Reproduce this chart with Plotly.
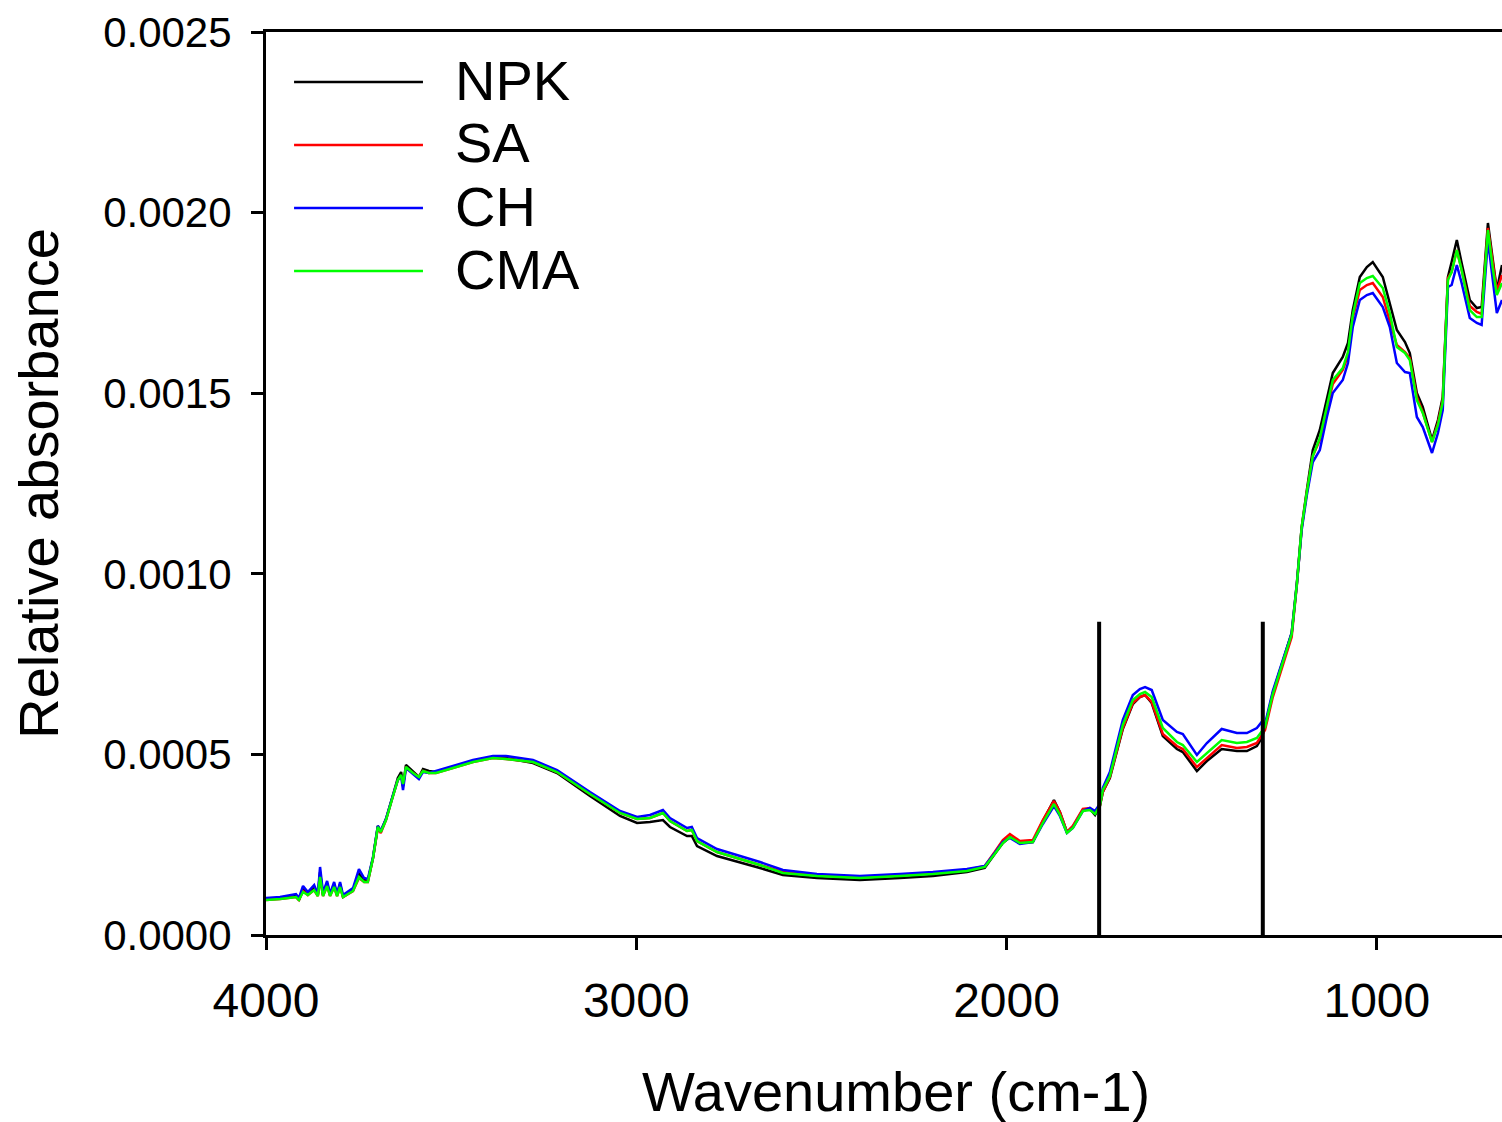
import plotly.graph_objects as go

# ---------------- data ----------------
wavenumber = [4000, 3962, 3919, 3911, 3900, 3887, 3870, 3860, 3854, 3846, 3835, 3827, 3816, 3808, 3800, 3792,
              3765, 3749, 3735, 3725, 3711, 3698, 3690, 3676, 3657, 3644, 3635, 3630, 3622, 3603, 3587, 3576,
              3560, 3541, 3495, 3441, 3387, 3352,
              3279, 3214, 3125, 3044, 2998, 2963, 2928, 2909, 2863, 2850, 2836, 2782, 2666,
              2604, 2512, 2396, 2288, 2199, 2107, 2059, 2032, 2010, 1991, 1964, 1929, 1902, 1872, 1856, 1837,
              1821, 1794, 1775, 1761, 1748,
              1740, 1721, 1686, 1659, 1640, 1626, 1608, 1578, 1540, 1524, 1486, 1459, 1419, 1378, 1351, 1324, 1311,
              1302, 1281, 1254, 1230, 1216, 1203, 1189, 1173, 1154, 1135, 1119, 1092, 1078, 1065, 1046, 1027, 1011,
              984, 965, 946, 924, 911, 892, 876, 851, 835, 822, 808, 798, 784, 771, 749, 730, 717, 700, 687, 676, 662]

npk = [99.7e-6, 102.4e-6, 108.0e-6, 96.9e-6, 127.4e-6, 113.5e-6, 130.1e-6, 110.7e-6, 174.4e-6, 110.7e-6, 144.0e-6, 110.7e-6, 141.2e-6, 110.7e-6, 141.2e-6, 105.2e-6,
       124.6e-6, 168.9e-6, 152.3e-6, 149.5e-6, 213.2e-6, 301.8e-6, 287.9e-6, 321.1e-6, 387.6e-6, 434.7e-6, 451.3e-6, 412.5e-6, 470.6e-6, 454.0e-6, 437.4e-6, 459.6e-6,
       454.0e-6, 451.3e-6, 465.1e-6, 481.7e-6, 492.8e-6, 490.0e-6,
       476.2e-6, 448.5e-6, 384.8e-6, 329.5e-6, 310.1e-6, 312.8e-6, 318.4e-6, 299.0e-6, 274.1e-6, 274.1e-6, 246.4e-6, 218.7e-6, 185.5e-6,
       166.1e-6, 157.8e-6, 152.3e-6, 157.8e-6, 163.3e-6, 174.4e-6, 185.5e-6, 224.2e-6, 254.7e-6, 271.3e-6, 254.7e-6, 257.5e-6, 315.6e-6, 373.7e-6, 340.5e-6, 285.2e-6,
       299.0e-6, 346.1e-6, 348.8e-6, 332.2e-6, 357.1e-6,
       395.9e-6, 434.7e-6, 570.3e-6, 639.5e-6, 658.9e-6, 664.4e-6, 642.3e-6, 550.9e-6, 514.9e-6, 506.6e-6, 454.0e-6, 481.7e-6, 514.9e-6, 509.4e-6, 509.4e-6, 523.2e-6, 545.4e-6,
       575.8e-6, 670.0e-6, 761.3e-6, 836.1e-6, 974.5e-6, 1129.5e-6, 1232.0e-6, 1342.7e-6, 1398.1e-6, 1481.1e-6, 1555.9e-6, 1600.2e-6, 1638.9e-6, 1730.3e-6, 1821.7e-6, 1849.4e-6, 1863.2e-6,
       1821.7e-6, 1749.7e-6, 1674.9e-6, 1641.7e-6, 1611.3e-6, 1500.5e-6, 1461.8e-6, 1370.4e-6, 1425.8e-6, 1489.5e-6, 1821.7e-6, 1863.2e-6, 1924.1e-6, 1860.4e-6, 1758.0e-6, 1735.8e-6, 1738.6e-6, 1971.2e-6, 1868.7e-6, 1785.7e-6, 1854.9e-6]

sa = [96.9e-6, 99.7e-6, 105.2e-6, 96.9e-6, 121.8e-6, 110.7e-6, 124.6e-6, 108.0e-6, 157.8e-6, 108.0e-6, 135.7e-6, 108.0e-6, 132.9e-6, 108.0e-6, 132.9e-6, 105.2e-6,
      121.8e-6, 157.8e-6, 146.7e-6, 146.7e-6, 213.2e-6, 296.2e-6, 282.4e-6, 318.4e-6, 384.8e-6, 429.1e-6, 440.2e-6, 415.3e-6, 462.3e-6, 448.5e-6, 437.4e-6, 454.0e-6,
      448.5e-6, 448.5e-6, 462.3e-6, 479.0e-6, 490.0e-6, 487.3e-6,
      479.0e-6, 451.3e-6, 390.4e-6, 337.8e-6, 321.1e-6, 323.9e-6, 337.8e-6, 315.6e-6, 287.9e-6, 290.7e-6, 260.2e-6, 229.8e-6, 193.8e-6,
      174.4e-6, 166.1e-6, 160.6e-6, 166.1e-6, 171.6e-6, 180.0e-6, 191.0e-6, 229.8e-6, 263.0e-6, 279.6e-6, 260.2e-6, 263.0e-6, 318.4e-6, 371.0e-6, 340.5e-6, 285.2e-6,
      301.8e-6, 348.8e-6, 351.6e-6, 337.8e-6, 357.1e-6,
      395.9e-6, 437.4e-6, 573.1e-6, 642.3e-6, 658.9e-6, 664.4e-6, 645.1e-6, 556.5e-6, 523.2e-6, 514.9e-6, 465.1e-6, 490.0e-6, 526.0e-6, 517.7e-6, 520.5e-6, 531.6e-6, 550.9e-6,
      567.5e-6, 658.9e-6, 750.3e-6, 825.0e-6, 969.0e-6, 1126.8e-6, 1226.4e-6, 1326.1e-6, 1370.4e-6, 1453.5e-6, 1525.4e-6, 1564.2e-6, 1602.9e-6, 1708.2e-6, 1785.7e-6, 1799.5e-6, 1805.1e-6,
      1766.3e-6, 1702.6e-6, 1633.4e-6, 1614.0e-6, 1597.4e-6, 1489.5e-6, 1447.9e-6, 1364.9e-6, 1417.5e-6, 1481.1e-6, 1818.9e-6, 1835.5e-6, 1896.4e-6, 1841.1e-6, 1741.4e-6, 1724.8e-6, 1719.2e-6, 1957.3e-6, 1854.9e-6, 1782.9e-6, 1827.2e-6]

ch = [102.4e-6, 105.2e-6, 113.5e-6, 102.4e-6, 135.7e-6, 119.0e-6, 138.4e-6, 113.5e-6, 188.3e-6, 116.3e-6, 149.5e-6, 113.5e-6, 146.7e-6, 113.5e-6, 146.7e-6, 110.7e-6,
      130.1e-6, 182.7e-6, 157.8e-6, 155.0e-6, 215.9e-6, 301.8e-6, 287.9e-6, 321.1e-6, 387.6e-6, 429.1e-6, 440.2e-6, 401.4e-6, 462.3e-6, 445.7e-6, 431.9e-6, 451.3e-6,
      448.5e-6, 454.0e-6, 467.9e-6, 484.5e-6, 495.6e-6, 495.6e-6,
      484.5e-6, 456.8e-6, 395.9e-6, 343.3e-6, 326.7e-6, 332.2e-6, 346.1e-6, 323.9e-6, 296.2e-6, 299.0e-6, 268.5e-6, 238.1e-6, 202.1e-6,
      180.0e-6, 168.9e-6, 163.3e-6, 168.9e-6, 174.4e-6, 182.7e-6, 191.0e-6, 227.0e-6, 257.5e-6, 268.5e-6, 251.9e-6, 257.5e-6, 307.3e-6, 357.1e-6, 329.5e-6, 282.4e-6,
      296.2e-6, 343.3e-6, 351.6e-6, 343.3e-6, 362.7e-6,
      407.0e-6, 451.3e-6, 595.2e-6, 664.4e-6, 681.1e-6, 686.6e-6, 678.3e-6, 595.2e-6, 562.0e-6, 556.5e-6, 498.3e-6, 531.6e-6, 570.3e-6, 559.2e-6, 559.2e-6, 573.1e-6, 589.7e-6,
      584.2e-6, 675.5e-6, 764.1e-6, 836.1e-6, 971.7e-6, 1121.2e-6, 1218.1e-6, 1309.5e-6, 1342.7e-6, 1434.1e-6, 1500.5e-6, 1536.5e-6, 1583.6e-6, 1683.2e-6, 1758.0e-6, 1771.8e-6, 1777.4e-6,
      1738.6e-6, 1683.2e-6, 1583.6e-6, 1558.7e-6, 1555.9e-6, 1434.1e-6, 1406.4e-6, 1334.4e-6, 1389.8e-6, 1453.5e-6, 1794.0e-6, 1799.5e-6, 1854.9e-6, 1805.1e-6, 1708.2e-6, 1694.3e-6, 1688.8e-6, 1924.1e-6, 1813.4e-6, 1722.0e-6, 1758.0e-6]

cma = [96.9e-6, 99.7e-6, 105.2e-6, 96.9e-6, 119.0e-6, 110.7e-6, 124.6e-6, 108.0e-6, 160.6e-6, 108.0e-6, 135.7e-6, 108.0e-6, 132.9e-6, 108.0e-6, 132.9e-6, 105.2e-6,
       121.8e-6, 160.6e-6, 146.7e-6, 146.7e-6, 213.2e-6, 299.0e-6, 285.2e-6, 318.4e-6, 384.8e-6, 429.1e-6, 443.0e-6, 418.1e-6, 465.1e-6, 448.5e-6, 437.4e-6, 454.0e-6,
       448.5e-6, 448.5e-6, 462.3e-6, 479.0e-6, 490.0e-6, 487.3e-6,
       479.0e-6, 451.3e-6, 390.4e-6, 337.8e-6, 321.1e-6, 323.9e-6, 337.8e-6, 315.6e-6, 287.9e-6, 290.7e-6, 260.2e-6, 229.8e-6, 193.8e-6,
       171.6e-6, 163.3e-6, 157.8e-6, 163.3e-6, 168.9e-6, 177.2e-6, 188.3e-6, 224.2e-6, 254.7e-6, 271.3e-6, 254.7e-6, 257.5e-6, 310.1e-6, 362.7e-6, 332.2e-6, 282.4e-6,
       296.2e-6, 343.3e-6, 346.1e-6, 335.0e-6, 357.1e-6,
       401.4e-6, 440.2e-6, 581.4e-6, 650.6e-6, 667.2e-6, 672.7e-6, 658.9e-6, 573.1e-6, 534.3e-6, 526.0e-6, 479.0e-6, 503.9e-6, 539.9e-6, 531.6e-6, 534.3e-6, 545.4e-6, 564.8e-6,
       575.8e-6, 667.2e-6, 758.6e-6, 833.3e-6, 971.7e-6, 1129.5e-6, 1226.4e-6, 1326.1e-6, 1375.9e-6, 1461.8e-6, 1536.5e-6, 1569.7e-6, 1614.0e-6, 1716.5e-6, 1805.1e-6, 1818.9e-6, 1824.4e-6,
       1791.2e-6, 1722.0e-6, 1627.9e-6, 1611.3e-6, 1591.9e-6, 1481.1e-6, 1445.2e-6, 1364.9e-6, 1411.9e-6, 1475.6e-6, 1813.4e-6, 1835.5e-6, 1896.4e-6, 1841.1e-6, 1730.3e-6, 1710.9e-6, 1710.9e-6, 1951.8e-6, 1846.6e-6, 1771.8e-6, 1805.1e-6]

series_names = ["NPK", "SA", "CH", "CMA"]
series_values = [npk, sa, ch, cma]
series_colors = ["#000000", "#ff0000", "#0000ff", "#00ff00"]
draw_order = [0, 1, 2, 3]

marker_wavenumbers = [1750, 1308]
marker_top = 0.000867

x_ticks = [4000, 3000, 2000, 1000]
y_ticks = [0.0, 0.0005, 0.0010, 0.0015, 0.0020, 0.0025]
y_tick_labels = ["0.0000", "0.0005", "0.0010", "0.0015", "0.0020", "0.0025"]
x_title = "Wavenumber (cm-1)"
y_title = "Relative absorbance"

# ---------------- figure ----------------
FONT = "Liberation Sans, Arial, sans-serif"
fig = go.Figure()
for i in draw_order:
    fig.add_trace(go.Scatter(x=wavenumber, y=series_values[i], mode="lines", name=series_names[i],
                             line=dict(color=series_colors[i], width=2.5), showlegend=False))

for wn in marker_wavenumbers:
    fig.add_shape(type="line", xref="x", yref="y", x0=wn, x1=wn, y0=0, y1=marker_top,
                  line=dict(color="black", width=4))

# manual legend (long line samples like the reference)
leg_x0, leg_x1, leg_tx = 0.0227, 0.127, 0.1513
leg_rows = [0.9446, 0.8749, 0.8051, 0.7353]
for name, color, yy in zip(series_names, series_colors, leg_rows):
    fig.add_shape(type="line", xref="paper", yref="paper", x0=leg_x0, x1=leg_x1, y0=yy, y1=yy,
                  line=dict(color=color, width=2.5))
    fig.add_annotation(xref="paper", yref="paper", x=leg_tx, y=yy + 0.0022, text=name, showarrow=False,
                       xanchor="left", yanchor="middle", font=dict(family=FONT, size=56, color="black"))

# x-axis title (slightly right of centre, as in the reference)
fig.add_annotation(xref="paper", yref="paper", x=0.5097, y=-0.1728, text=x_title, showarrow=False,
                   xanchor="center", yanchor="middle", font=dict(family=FONT, size=56, color="black"))

fig.update_layout(
    width=1502, height=1122,
    margin=dict(l=266, r=0, t=32, b=187, autoexpand=False),
    paper_bgcolor="white", plot_bgcolor="white",
    font=dict(family=FONT, color="black"),
)
fig.update_xaxes(range=[4000, 662], tickmode="array", tickvals=x_ticks, ticks="outside", ticklen=12, tickwidth=3,
                 tickcolor="black", showline=True, linecolor="black", linewidth=3, mirror=True, showgrid=False,
                 zeroline=False, tickfont=dict(size=48, family=FONT), ticklabelstandoff=9)
fig.update_yaxes(range=[0, 0.0025], tickmode="array", tickvals=y_ticks, ticktext=y_tick_labels, ticks="outside",
                 ticklen=12, tickwidth=3, tickcolor="black", showline=True, linecolor="black", linewidth=3,
                 showgrid=False, zeroline=False, tickfont=dict(size=42, family=FONT), ticklabelstandoff=11,
                 title=dict(text=y_title, font=dict(size=56, family=FONT), standoff=27))

fig.write_html("out.html")
